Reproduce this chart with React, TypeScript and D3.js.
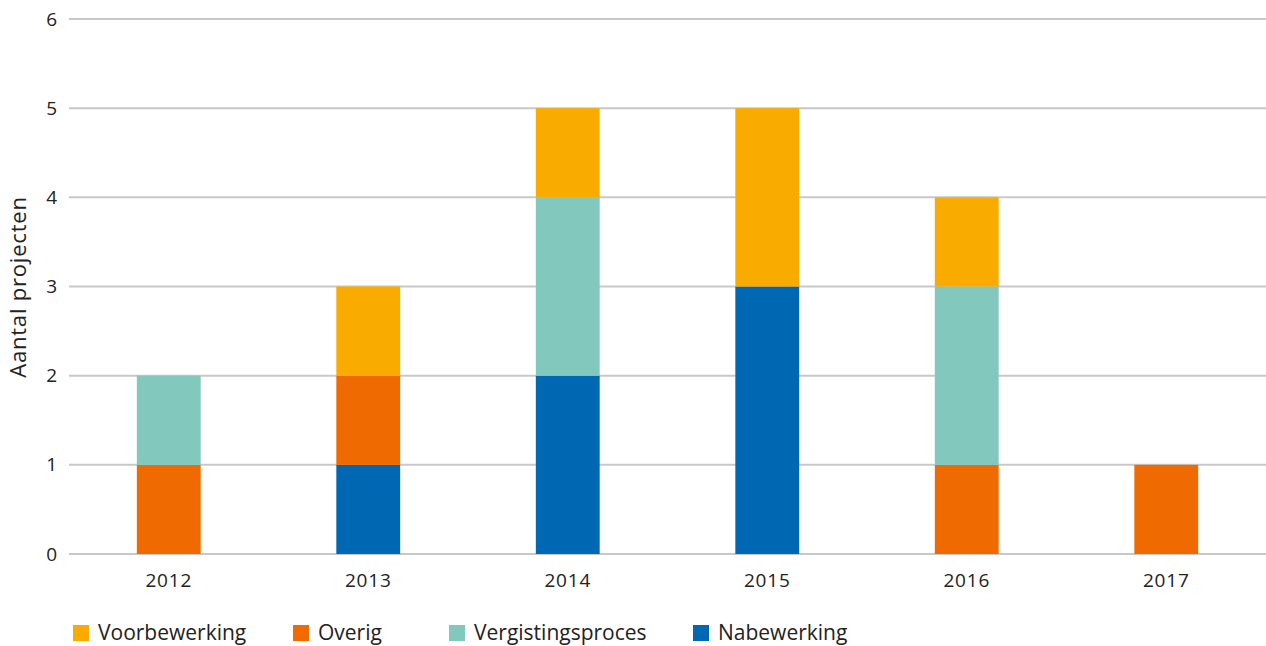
import React from "react";
import * as d3 from "d3";

const years = ["2012", "2013", "2014", "2015", "2016", "2017"];
const seriesNames = ["Nabewerking", "Overig", "Vergistingsproces", "Voorbewerking"];
const nabewerking = [0, 1, 2, 3, 0, 0];
const overig = [1, 1, 0, 0, 1, 1];
const vergistingsproces = [1, 0, 2, 0, 2, 0];
const voorbewerking = [0, 1, 1, 2, 1, 0];
const yTicks = [0, 1, 2, 3, 4, 5, 6];
const legendOrder = ["Voorbewerking", "Overig", "Vergistingsproces", "Nabewerking"];
const legendX = [73, 293, 449, 693];

const colors: Record<string, string> = {
  Nabewerking: "#0067B2",
  Overig: "#EF6A00",
  Vergistingsproces: "#82C8BC",
  Voorbewerking: "#F9AB00",
};

const W = 1266;
const H = 646;
const left = 69;
const right = 1266;
const top = 19;
const bottom = 554;
const font = "'Open Sans', 'Noto Sans', sans-serif";

export default function App() {
  const rows = years.map((y, i) => ({
    year: y,
    Nabewerking: nabewerking[i],
    Overig: overig[i],
    Vergistingsproces: vergistingsproces[i],
    Voorbewerking: voorbewerking[i],
  }));
  const stack = d3.stack<any>().keys(seriesNames)(rows);
  const x = d3.scaleBand().domain(years).range([left, right]).paddingInner(0.68).paddingOuter(0.34);
  const y = d3.scaleLinear().domain([0, 6]).range([bottom, top]);

  return (
    <svg width={W} height={H} style={{ position: "absolute", left: 0, top: 0, background: "#fff" }}>
      {yTicks.map((t) => (
        <g key={t}>
          <line x1={left} x2={right} y1={y(t)} y2={y(t)} stroke="#C8C8C8" strokeWidth={2} />
          <text x={57} y={y(t)} dy="0.35em" textAnchor="end" fontFamily={font} fontSize={19} fill="#222">
            {t}
          </text>
        </g>
      ))}
      {stack.map((s) => (
        <g key={s.key} fill={colors[s.key]}>
          {s.map((d: any, i: number) =>
            d[1] - d[0] > 0 ? (
              <rect
                key={i}
                x={x(years[i])}
                width={x.bandwidth()}
                y={y(d[1])}
                height={y(d[0]) - y(d[1])}
              />
            ) : null
          )}
        </g>
      ))}
      {years.map((yr) => (
        <text
          key={yr}
          x={(x(yr) as number) + x.bandwidth() / 2}
          y={587}
          textAnchor="middle"
          fontFamily={font}
          fontSize={19}
          letterSpacing={0.8}
          fill="#222"
        >
          {yr}
        </text>
      ))}
      <text
        transform={`translate(26,287) rotate(-90)`}
        textAnchor="middle"
        fontFamily={font}
        fontSize={22}
        letterSpacing={0.8}
        fill="#222"
      >
        Aantal projecten
      </text>
      {legendOrder.map((k, i) => (
        <g key={k} transform={`translate(${legendX[i]},625)`}>
          <rect width={16} height={16} fill={colors[k]} />
          <text x={25} y={8} dy="0.35em" fontFamily={font} fontSize={21} fill="#222">
            {k}
          </text>
        </g>
      ))}
    </svg>
  );
}
